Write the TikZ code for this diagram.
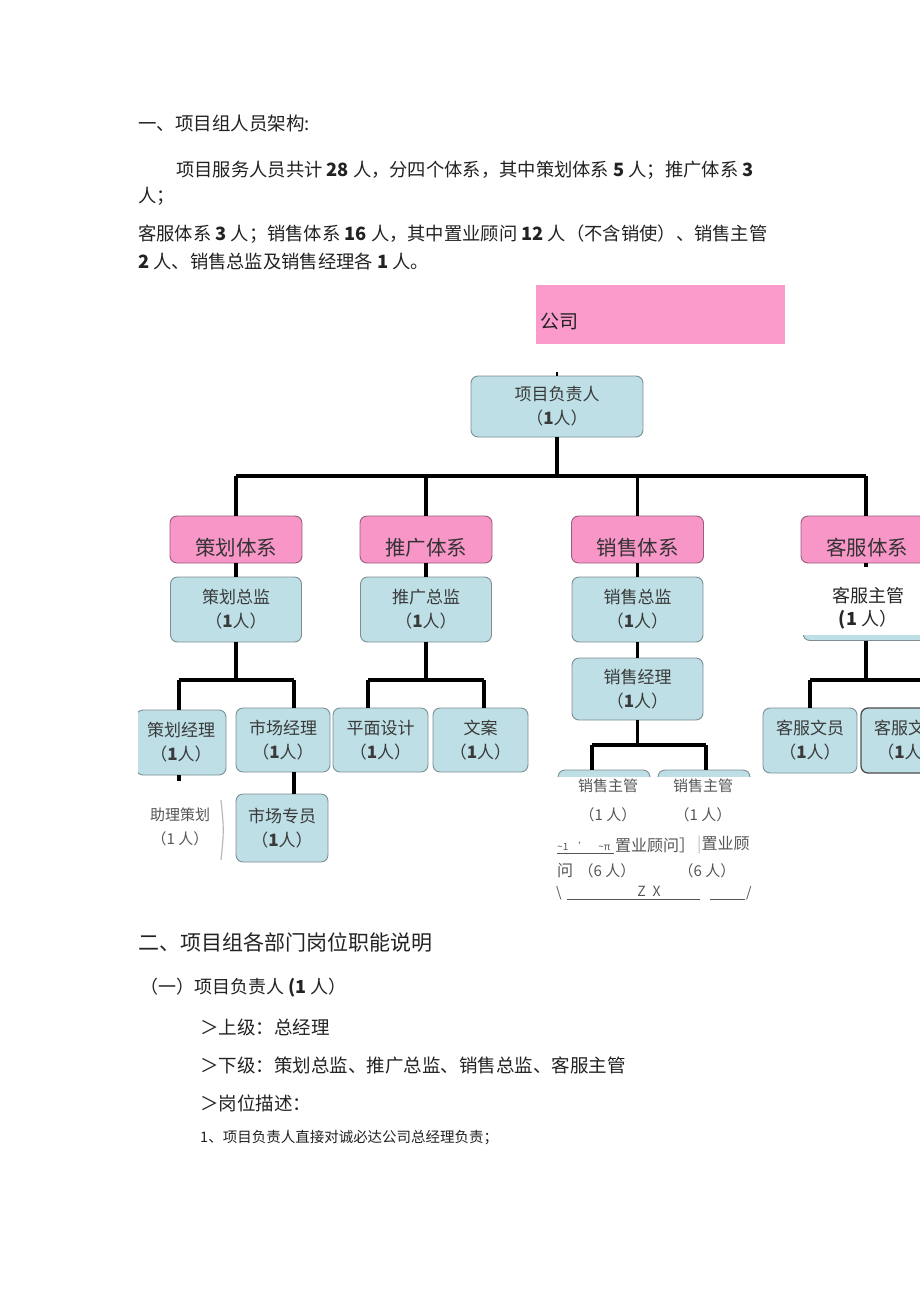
\documentclass[tikz,border=0pt]{standalone}
\usepackage{fontspec}
\setmainfont{Noto Sans CJK SC}
\definecolor{boxblue}{HTML}{BDDFE5}
\definecolor{boxborder}{HTML}{7D8F93}
\definecolor{boxpink}{HTML}{F896C8}
\definecolor{pinkborder}{HTML}{9A5C7C}
\definecolor{companypink}{HTML}{FA9BCB}
\definecolor{txt}{HTML}{222222}
\definecolor{boxtxt}{HTML}{3A3A3A}
\definecolor{lighttxt}{HTML}{555555}
\tikzset{
  bluebox/.style={draw=boxborder, fill=boxblue, line width=0.9pt, rounded corners=7pt, align=center, inner sep=0pt, text=boxtxt, font=\fontsize{17}{24}\selectfont},
  pinkbox/.style={draw=pinkborder, fill=boxpink, line width=0.9pt, rounded corners=7pt, inner sep=0pt, minimum height=47pt, minimum width=132pt},
  pinklabel/.style={inner sep=0pt, text=black!80, font=\fontsize{20.5}{24}\selectfont},
  conn/.style={line width=3.6pt, black},
  textline/.style={anchor=west, inner sep=0pt, text=txt},
  plain/.style={inner sep=0pt, text=lighttxt, align=center},
  thinline/.style={line width=0.7pt, lighttxt},
}
\begin{document}
\begin{tikzpicture}[x=1pt,y=-1pt]
\useasboundingbox (0,0) rectangle (920,1301);
\fill[white] (0,0) rectangle (920,1301);

% ---- top text
\node[textline, font=\fontsize{18.5}{18.5}\selectfont] (h1) at (138,124) {一、项目组人员架构:};
\node[textline, font=\fontsize{18.3}{18.3}\selectfont] (t1) at (176,170) {项目服务人员共计 \textbf{28} 人，分四个体系，其中策划体系 \textbf{5} 人；推广体系 \textbf{3}};
\node[textline, font=\fontsize{18.3}{18.3}\selectfont] (t2) at (138,196) {人；};
\node[textline, font=\fontsize{18.3}{18.3}\selectfont] (t3) at (138,234) {客服体系 \textbf{3} 人；销售体系 \textbf{16} 人，其中置业顾问 \textbf{12} 人（不含销使）、销售主管};
\node[textline, font=\fontsize{18.3}{18.3}\selectfont] (t4) at (138,262) {\textbf{2} 人、销售总监及销售经理各 \textbf{1} 人。};

% ---- company
\node[fill=companypink, inner sep=0pt, minimum width=249pt, minimum height=59pt] (co) at (660.5,314.5) {};
\node[textline, font=\fontsize{19}{19}\selectfont] (cot) at (540,321) {公司};

% ---- level 0
\node[bluebox, minimum width=172pt, minimum height=61pt] (top) at (557,406.5) {项目负责人\\（\textbf{1}人）};
\coordinate (stub) at (557,372);
\draw[conn, line width=2pt] (top.north) -- (stub);

% ---- level 1 (pink)
\node[pinkbox] (p1) at (236,539.5) {};
\node[pinkbox] (p2) at (426,539.5) {};
\node[pinkbox] (p3) at (637.5,539.5) {};
\node[pinkbox] (p4) at (867,539.5) {};
\node[pinklabel] (p1t) at ([yshift=-8pt]p1.center) {策划体系};
\node[pinklabel] (p2t) at ([yshift=-8pt]p2.center) {推广体系};
\node[pinklabel] (p3t) at ([yshift=-8pt]p3.center) {销售体系};
\node[pinklabel] (p4t) at ([yshift=-8pt]p4.center) {客服体系};

\coordinate (bus1) at (236,476);
\coordinate (bus4) at (866,476);
\draw[conn] (top.south) -- (top.south |- bus1);
\draw[conn] (bus1) -- (bus4);
\draw[conn] (bus1) -- (p1.north);
\draw[conn] (p2.north |- bus1) -- (p2.north);
\draw[conn] (p3.north |- bus1) -- (p3.north);
\draw[conn] (bus4) -- (bus4 |- p4.north);

% ---- level 2
\node[bluebox, minimum width=131pt, minimum height=65pt] (d1) at (236,609.5) {策划总监\\（\textbf{1}人）};
\node[bluebox, minimum width=131pt, minimum height=65pt] (d2) at (426,609.5) {推广总监\\（\textbf{1}人）};
\node[bluebox, minimum width=131pt, minimum height=65pt] (d3) at (637.5,609.5) {销售总监\\（\textbf{1}人）};
\node[bluebox, minimum width=126pt, minimum height=65pt] (d4) at (866,608) {};
\draw[conn] (p1.south) -- (d1.north);
\draw[conn] (p2.south) -- (d2.north);
\draw[conn] (p3.south) -- (d3.north);
\draw[conn] (p4.south -| d4.north) -- (d4.north);
\fill[white] (798,567) rectangle (920,635);
\node[plain, text=black!85, font=\fontsize{18}{23}\selectfont] (d4t) at (868,608.5) {客服主管\\\textbf{(1} 人）};

% ---- planning level 3
\coordinate (pb1) at (179,680);
\coordinate (pb2) at (294,680);
\begin{scope}
\clip (138,690) rectangle (240,790);
\node[bluebox, minimum width=90pt, minimum height=65pt] (m1) at (181,742.5) {策划经理\\（\textbf{1}人）};
\end{scope}
\node[bluebox, minimum width=94pt, minimum height=64pt] (m2) at (283,740) {市场经理\\（\textbf{1}人）};
\node[bluebox, minimum width=92pt, minimum height=68pt] (m5) at (282,828) {市场专员\\（\textbf{1}人）};
\draw[conn] (d1.south) -- (d1.south |- pb1);
\draw[conn] (pb1) -- (pb2);
\draw[conn] (pb1) -- (pb1 |- m1.north);
\draw[conn] (pb2) -- (pb2 |- m2.north);
\draw[conn] (pb2 |- m2.south) -- (pb2 |- m5.north);
\coordinate (m1stub) at (179,781);
\draw[conn] (m1.south -| m1stub) -- (m1stub);
\node[plain, font=\fontsize{15}{24}\selectfont] (zl) at (180,827) {助理策划\\（1 人）};
\draw[line width=1.2pt, gray!55] (221,800) .. controls (224,830) .. (221,860);

% ---- promotion level 3
\coordinate (qb1) at (368,680);
\coordinate (qb2) at (484,680);
\node[bluebox, minimum width=95pt, minimum height=64pt] (m3) at (380.5,740) {平面设计\\（\textbf{1}人）};
\node[bluebox, minimum width=95pt, minimum height=64pt] (m4) at (480.5,740) {文案\\（\textbf{1}人）};
\draw[conn] (d2.south) -- (d2.south |- qb1);
\draw[conn] (qb1) -- (qb2);
\draw[conn] (qb1) -- (qb1 |- m3.north);
\draw[conn] (qb2) -- (qb2 |- m4.north);

% ---- sales
\node[bluebox, minimum width=131pt, minimum height=62pt] (sm) at (637.5,689) {销售经理\\（\textbf{1}人）};
\draw[conn] (d3.south) -- (sm.north);
\coordinate (sb1) at (592,745);
\coordinate (sb2) at (706,745);
\node[bluebox, minimum width=92pt, minimum height=40pt] (s1) at (604,790) {};
\node[bluebox, minimum width=92pt, minimum height=40pt] (s2) at (704,790) {};
\draw[conn] (sm.south) -- (sm.south |- sb1);
\draw[conn] (sb1) -- (sb2);
\draw[conn] (sb1) -- (sb1 |- s1.north);
\draw[conn] (sb2) -- (sb2 |- s2.north);
\fill[white] (550,777) rectangle (760,815);
\node[plain, font=\fontsize{15}{15}\selectfont] (s1a) at (608,786) {销售主管};
\node[plain, font=\fontsize{15}{15}\selectfont] (s2a) at (703,786) {销售主管};
\node[plain, font=\fontsize{15}{15}\selectfont] (s1b) at (608,815) {（1 人）};
\node[plain, font=\fontsize{15}{15}\selectfont] (s2b) at (703,815) {（1 人）};
\node[textline, text=lighttxt, font=\fontsize{10}{10}\selectfont] (q1) at (557,846) {\textasciitilde1\quad'\quad\textasciitilde π};
\draw[thinline] (557,853) -- (614,853);
\node[textline, text=lighttxt, font=\fontsize{16}{16}\selectfont] (q2) at (615,845) {置业顾问］};
\node[textline, text=lighttxt, font=\fontsize{16}{16}\selectfont] (q3) at (697,845) {{\color{gray!50}|}置业顾};
\node[textline, text=lighttxt, font=\fontsize{16}{16}\selectfont] (r1) at (557,871) {问};
\node[plain, font=\fontsize{15}{15}\selectfont] (r2) at (607,871) {（6 人）};
\node[plain, font=\fontsize{15}{15}\selectfont] (r3) at (707,871) {（6 人）};
\node[textline, text=lighttxt, font=\fontsize{14}{14}\selectfont] (u1) at (556,893) {\textbackslash};
\draw[thinline] (567,899) -- (700,899);
\draw[thinline] (710,899) -- (745,899);
\node[plain, font=\fontsize{14}{14}\selectfont] (u2) at (649,891) {Z\enspace X};
\node[textline, text=lighttxt, font=\fontsize{14}{14}\selectfont] (u3) at (746,893) {/};

% ---- customer service level 3
\coordinate (cb) at (810,680);
\coordinate (cbe) at (925,680);
\node[bluebox, minimum width=94pt, minimum height=65pt] (c1) at (810,740.5) {客服文员\\（\textbf{1}人）};
\node[bluebox, draw=black!70, line width=1.3pt, minimum width=94pt, minimum height=65pt] (c2) at (908,740.5) {客服文员\\（\textbf{1}人）};
\draw[conn] (d4.south) -- (d4.south |- cb);
\draw[conn] (cb) -- (cbe);
\draw[conn] (cb) -- (c1.north);

% ---- bottom text
\node[textline, font=\fontsize{21}{21}\selectfont] (h2) at (138,942) {二、项目组各部门岗位职能说明};
\node[textline, font=\fontsize{18}{18}\selectfont] (h3) at (140,988) {（一）项目负责人 \textbf{(1} 人）};
\node[textline, font=\fontsize{18.5}{18.5}\selectfont] (b1) at (200,1027) {＞上级：总经理};
\node[textline, font=\fontsize{18.5}{18.5}\selectfont] (b2) at (200,1065) {＞下级：策划总监、推广总监、销售总监、客服主管};
\node[textline, font=\fontsize{18.5}{18.5}\selectfont] (b3) at (200,1103) {＞岗位描述：};
\node[textline, font=\fontsize{14.5}{14.5}\selectfont] (b4) at (200,1138) {1、项目负责人直接对诚必达公司总经理负责；};
\end{tikzpicture}
\end{document}
